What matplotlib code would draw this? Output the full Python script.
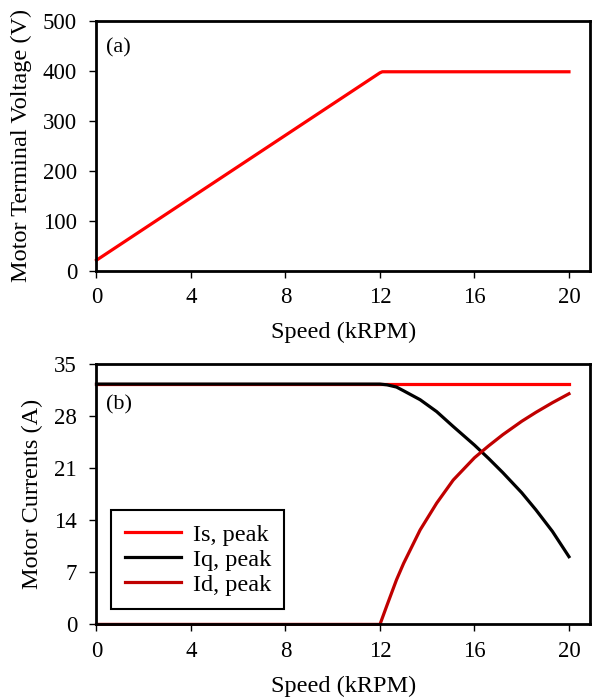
import matplotlib
matplotlib.use("Agg")
import matplotlib.pyplot as plt

plt.rcParams['font.family'] = ['Liberation Serif', 'DejaVu Serif']

# (a) terminal voltage vs speed
speed_v = [0, 12.0, 12.1, 20]
voltage = [21, 396, 398, 398]

# (b) motor currents vs speed
speed_i = [0, 12.0, 12.3, 12.7, 13.0, 13.7, 14.4, 15.1, 16.0, 16.6, 17.2, 18.0, 18.6, 19.3, 20]
is_peak = [32.3, 32.3, 32.3, 32.3, 32.3, 32.3, 32.3, 32.3, 32.3, 32.3, 32.3, 32.3, 32.3, 32.3, 32.3]
iq_peak = [32.3, 32.3, 32.2, 31.9, 31.4, 30.2, 28.6, 26.6, 24.1, 22.3, 20.4, 17.7, 15.4, 12.5, 9.1]
id_peak = [0, 0, 2.6, 6.0, 8.2, 12.7, 16.3, 19.4, 22.4, 24.0, 25.5, 27.3, 28.5, 29.8, 31.0]

xticks = [0, 4, 8, 12, 16, 20]

fig = plt.figure(figsize=(5.92, 7.0), dpi=100)
ax1 = fig.add_axes([0.163, 0.6133, 0.834, 0.357])
ax2 = fig.add_axes([0.163, 0.108, 0.834, 0.372])

for ax in (ax1, ax2):
    for s in ax.spines.values():
        s.set_linewidth(2)
    ax.tick_params(direction='out', length=5, width=1, labelsize=16.5)
    ax.tick_params(axis='x', pad=7)
    ax.tick_params(axis='y', pad=9)
    ax.set_xlim(0, 20.9)
    ax.set_xticks(xticks)
    ax.set_xlabel('Speed (kRPM)', fontsize=17.5, labelpad=10)

ax1.plot(speed_v, voltage, color='#FF0000', lw=2.3, clip_on=False)
ax1.set_ylim(0, 500)
ax1.set_yticks(range(0, 501, 100))
ax1.set_ylabel('Motor Terminal Voltage (V)', fontsize=17.5, labelpad=8)
ax1.text(0.02, 0.93, '(a)', transform=ax1.transAxes, fontsize=16, va='top')

ax2.plot(speed_i, is_peak, color='#FF0000', lw=2.3, label='Is, peak', clip_on=False)
ax2.plot(speed_i, iq_peak, color='black', lw=2.3, label='Iq, peak', clip_on=False)
ax2.plot(speed_i, id_peak, color='#C00000', lw=2.3, label='Id, peak', clip_on=False)
ax2.set_ylim(0, 35)
ax2.set_yticks(range(0, 36, 7))
ax2.set_ylabel('Motor Currents (A)', fontsize=17.5, labelpad=8)
ax2.text(0.02, 0.88, '(b)', transform=ax2.transAxes, fontsize=16, va='top')

leg = ax2.legend(loc='lower left', bbox_to_anchor=(0.03, 0.059), borderaxespad=0,
                 fontsize=17.5, fancybox=False, edgecolor='black', handlelength=2.3,
                 handletextpad=0.5, framealpha=1, borderpad=0.55, labelspacing=0.12)
leg.get_frame().set_linewidth(1.5)

fig.savefig('out.png', dpi=100)
